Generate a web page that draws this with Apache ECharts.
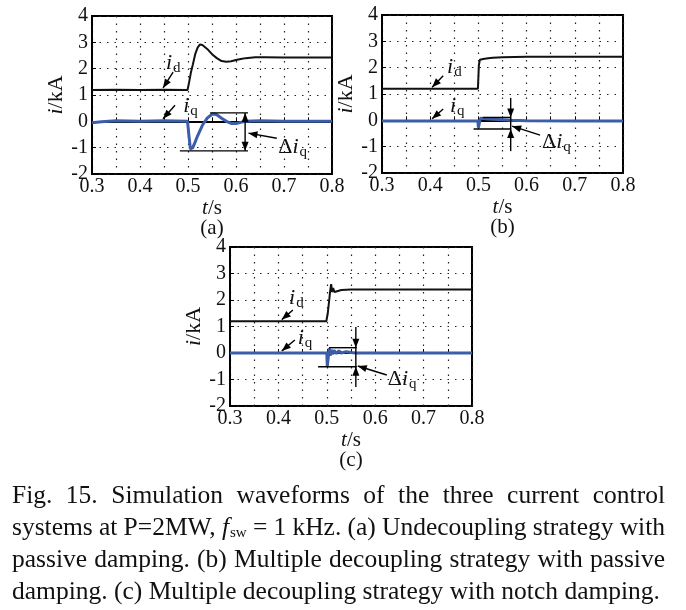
<!DOCTYPE html>
<html><head><meta charset="utf-8">
<script src="https://cdn.jsdelivr.net/npm/echarts@6/dist/echarts.min.js"></script>
<style>html,body{margin:0;padding:0;background:#fff}#c{width:686px;height:610px}</style>
</head><body><div id="c"></div>
<script>
// ---------- data ----------
const xTicks = ['0.3','0.4','0.5','0.6','0.7','0.8'];
const yTicks = ['-2','-1','0','1','2','3','4'];
const panelLabels = ['(a)','(b)','(c)'];

// (a) Undecoupling strategy with passive damping
const tA_d = [0.30,0.35,0.40,0.45,0.499,0.502,0.506,0.510,0.515,0.520,0.525,0.530,0.540,0.550,0.560,0.570,0.580,0.590,0.600,0.610,0.620,0.640,0.660,0.700,0.750,0.800];
const A_d  = [1.19,1.20,1.19,1.20,1.19,1.45,1.85,2.15,2.55,2.80,2.92,2.90,2.75,2.55,2.40,2.29,2.26,2.28,2.33,2.37,2.40,2.43,2.43,2.42,2.42,2.42];
const tA_q = [0.30,0.32,0.35,0.40,0.45,0.499,0.502,0.505,0.507,0.510,0.515,0.520,0.525,0.530,0.540,0.550,0.555,0.560,0.570,0.580,0.590,0.600,0.610,0.620,0.650,0.700,0.800];
const A_q  = [-0.05,-0.02,0.02,0.00,0.02,0.00,-0.55,-1.05,-1.12,-1.00,-0.78,-0.55,-0.35,-0.15,0.12,0.27,0.28,0.25,0.12,0.00,-0.08,-0.08,-0.04,0.00,0.02,0.00,0.00];

// (b) Multiple decoupling strategy with passive damping
const tB_d = [0.30,0.40,0.499,0.501,0.503,0.510,0.520,0.530,0.550,0.600,0.700,0.800];
const B_d  = [1.20,1.20,1.20,2.10,2.30,2.33,2.36,2.38,2.40,2.41,2.41,2.41];
const tB_q = [0.30,0.40,0.499,0.500,0.502,0.504,0.510,0.520,0.530,0.550,0.570,0.600,0.700,0.800];
const B_q  = [-0.03,-0.03,-0.03,-0.28,-0.25,0.08,0.07,0.05,0.04,0.02,0.00,-0.02,-0.03,-0.03];

// (c) Multiple decoupling strategy with notch damping
const tC_d = [0.30,0.40,0.499,0.502,0.505,0.507,0.509,0.511,0.513,0.516,0.520,0.530,0.550,0.600,0.700,0.800];
const C_d  = [1.20,1.20,1.20,1.50,2.00,2.35,2.60,2.30,2.45,2.30,2.36,2.38,2.40,2.40,2.40,2.40];
const tC_q = [0.30,0.40,0.500,0.501,0.503,0.505,0.507,0.509,0.512,0.515,0.520,0.525,0.530,0.540,0.550,0.560,0.600,0.700,0.800];
const C_q  = [0.00,0.00,0.00,-0.50,-0.45,0.18,-0.10,0.12,-0.05,0.10,-0.02,0.08,0.00,0.05,0.02,0.00,0.00,0.00,0.00];

const captionLines = [
  ['Fig.','15.','Simulation','waveforms','of','the','three','current','control'],
  ['systems','at','P=2MW,','f_sw','=','1','kHz.','(a)','Undecoupling','strategy','with'],
  ['passive','damping.','(b)','Multiple','decoupling','strategy','with','passive'],
  ['damping.','(c)','Multiple','decoupling','strategy','with','notch','damping.']
];

// ---------- layout / style ----------
const FF = 'Liberation Serif';
const BLUE = '#3b5daa';
const zip = (t, v) => t.map((x, i) => [x, v[i]]);

const panels = [
  { grid:{left:92, top:16, width:240, height:158}, d:[tA_d,A_d], q:[tA_q,A_q],
    ann:{ idL:[0.454,2.21], idA:[[0.469,1.87],[0.448,1.27]],
          iqL:[0.490,0.58], iqA:[[0.473,0.61],[0.448,0.10]],
          top:[0.546,0.625,0.32], bot:[0.483,0.625,-1.12], vert:{t:0.619,out:true},
          dA:[[0.685,-0.64],[0.626,-0.45]], dL:[0.688,-0.98] } },
  { grid:{left:382, top:15, width:241, height:158}, d:[tB_d,B_d], q:[tB_q,B_q],
    ann:{ idL:[0.435,2.03], idA:[[0.427,1.69],[0.404,1.26]],
          iqL:[0.441,0.54], iqA:[[0.427,0.43],[0.404,0.06]],
          top:[0.509,0.568,0.11], bot:[0.490,0.568,-0.33], vert:{t:0.567,out:false,v1:0.85,v2:-1.17},
          dA:[[0.628,-0.56],[0.570,-0.22]], dL:[0.632,-0.83] } },
  { grid:{left:230, top:247, width:242, height:159}, d:[tC_d,C_d], q:[tC_q,C_q],
    ann:{ idL:[0.422,2.08], idA:[[0.430,1.62],[0.407,1.26]],
          iqL:[0.440,0.57], iqA:[[0.434,0.49],[0.407,0.08]],
          top:[0.5045,0.562,0.20], bot:[0.482,0.562,-0.52], vert:{t:0.560,out:false,v1:0.98,v2:-1.28},
          dA:[[0.624,-0.83],[0.564,-0.49]], dL:[0.626,-1.00] } }
];

const gridLine = { show:true, lineStyle:{ color:'#222', width:1.2, type:[1.5,6] } };
const option = { animation:false, backgroundColor:'#fff', grid:[], xAxis:[], yAxis:[], series:[] };

panels.forEach((p, i) => {
  option.grid.push(Object.assign({ show:true, borderColor:'#000', borderWidth:2, backgroundColor:'transparent' }, p.grid));
  option.xAxis.push({
    type:'value', gridIndex:i, min:0.3, max:0.8, interval:0.05,
    axisLine:{ show:true, lineStyle:{ color:'#000', width:2 } },
    axisTick:{ show:true, inside:true, length:4, lineStyle:{ color:'#000' } },
    splitLine: gridLine,
    axisLabel:{ show:true, showMinLabel:true, showMaxLabel:true, margin:3, color:'#111', fontFamily:FF, fontSize:20,
      formatter: v => { const s = v.toFixed(1); return (Math.abs(v*10 - Math.round(v*10)) < 1e-6 && xTicks.includes(s)) ? s : ''; } },
    name:'{it|t}/s', nameLocation:'middle', nameGap:21,
    nameTextStyle:{ color:'#111', fontFamily:FF, fontSize:21, rich:{ it:{ fontStyle:'italic', fontFamily:FF, fontSize:21, color:'#111' } } }
  });
  option.yAxis.push({
    type:'value', gridIndex:i, min:-2, max:4, interval:1,
    axisLine:{ show:true, lineStyle:{ color:'#000', width:2 } },
    axisTick:{ show:true, inside:true, length:4, lineStyle:{ color:'#000' } },
    splitLine: gridLine,
    axisLabel:{ margin:4, color:'#111', fontFamily:FF, fontSize:20,
      formatter: v => { const s = String(Math.round(v)); return yTicks.includes(s) ? s : ''; } },
    name:'{it|i}/kA', nameLocation:'middle', nameGap:12,
    nameTextStyle:{ color:'#111', fontFamily:FF, fontSize:22, rich:{ it:{ fontStyle:'italic', fontFamily:FF, fontSize:22, color:'#111' } } }
  });
  option.series.push({ type:'line', xAxisIndex:i, yAxisIndex:i, data:zip(p.d[0], p.d[1]), symbol:'none',
    lineStyle:{ color:'#111', width:2 }, z:3 });
  option.series.push({ type:'line', xAxisIndex:i, yAxisIndex:i, data:zip(p.q[0], p.q[1]), symbol:'none',
    lineStyle:{ color:BLUE, width:3 }, z:4 });
});

const chart = echarts.init(document.getElementById('c'), null, { renderer:'canvas' });
chart.setOption(option);

// ---------- annotations ----------
const ctx = document.createElement('canvas').getContext('2d');
function measure(text, size, italic){ ctx.font = (italic ? 'italic ' : '') + size + 'px "' + FF + '"'; return ctx.measureText(text).width; }
function txt(x, y, text, size, italic, extra){
  return Object.assign({ type:'text', x:x, y:y, silent:true, z:100,
    style:{ text:text, fontFamily:FF, fontSize:size, fontStyle:italic ? 'italic' : 'normal', fill:'#111', align:'left', verticalAlign:'middle' } }, extra || {});
}
function seg(a, b, w){ return { type:'line', silent:true, z:100, shape:{ x1:a[0], y1:a[1], x2:b[0], y2:b[1] }, style:{ stroke:'#000', lineWidth:w || 1.4 } }; }
function head(tip, from, L, W){
  L = L || 9; W = W || 3.5;
  const dx = tip[0]-from[0], dy = tip[1]-from[1], len = Math.hypot(dx, dy) || 1;
  const ux = dx/len, uy = dy/len, bx = tip[0]-ux*L, by = tip[1]-uy*L;
  return { type:'polygon', silent:true, z:100, shape:{ points:[[tip[0],tip[1]],[bx-uy*W, by+ux*W],[bx+uy*W, by-ux*W]] }, style:{ fill:'#000' } };
}
function arrow(from, tip){ return [seg(from, tip), head(tip, from)]; }
function subLabel(pt, pre, sub){
  const els = []; let x = pt[0]; const S = 22;
  if (pre){ els.push(txt(x, pt[1], pre, S, false)); x += measure(pre, S, false); }
  els.push(txt(x, pt[1], 'i', S, true)); x += measure('i', S, true) + 1;
  els.push(txt(x, pt[1] + 5, sub, 15, false));
  return els;
}

const G = [];
panels.forEach((p, i) => {
  const P = (t, v) => chart.convertToPixel({ gridIndex:i }, [t, v]);
  const a = p.ann;
  G.push(...subLabel(P(a.idL[0], a.idL[1]), '', 'd'));
  G.push(...arrow(P(...a.idA[0]), P(...a.idA[1])));
  G.push(...subLabel(P(a.iqL[0], a.iqL[1]), '', 'q'));
  G.push(...arrow(P(...a.iqA[0]), P(...a.iqA[1])));
  G.push(seg(P(a.top[0], a.top[2]), P(a.top[1], a.top[2])));
  G.push(seg(P(a.bot[0], a.bot[2]), P(a.bot[1], a.bot[2])));
  const vt = a.vert;
  const pTop = P(vt.t, a.top[2]), pBot = P(vt.t, a.bot[2]);
  if (vt.out){
    G.push(seg(pTop, pBot));
    G.push(head(pTop, pBot), head(pBot, pTop));
  } else {
    const p1 = P(vt.t, vt.v1), p2 = P(vt.t, vt.v2);
    G.push(seg(p1, p2));
    G.push(head(pTop, p1), head(pBot, p2));
  }
  G.push(...arrow(P(...a.dA[0]), P(...a.dA[1])));
  G.push(...subLabel(P(a.dL[0], a.dL[1]), 'Δ', 'q'));
  const g = p.grid;
  const lab = txt(g.left + g.width/2, g.top + g.height + 54, panelLabels[i], 21, false);
  lab.style.align = 'center';
  G.push(lab);
});

// caption (justified)
const capSize = 25.5, capLeft = 12, capRight = 665, capYs = [496, 528, 560, 592];
function wordWidth(w){ return w === 'f_sw' ? measure('f', capSize, true) + 1 + measure('sw', 15, false) : measure(w, capSize, false); }
captionLines.forEach((words, li) => {
  const widths = words.map(wordWidth);
  const total = widths.reduce((s, w) => s + w, 0);
  const last = li === captionLines.length - 1;
  const gap = last ? measure(' ', capSize, false) : (capRight - capLeft - total) / (words.length - 1);
  let x = capLeft;
  words.forEach((w, k) => {
    if (w === 'f_sw'){
      G.push(txt(x, capYs[li], 'f', capSize, true));
      G.push(txt(x + measure('f', capSize, true) + 1, capYs[li] + 5, 'sw', 15, false));
    } else {
      G.push(txt(x, capYs[li], w, capSize, false));
    }
    x += widths[k] + gap;
  });
});

chart.setOption({ graphic:{ elements:G } });
</script>
</body></html>
